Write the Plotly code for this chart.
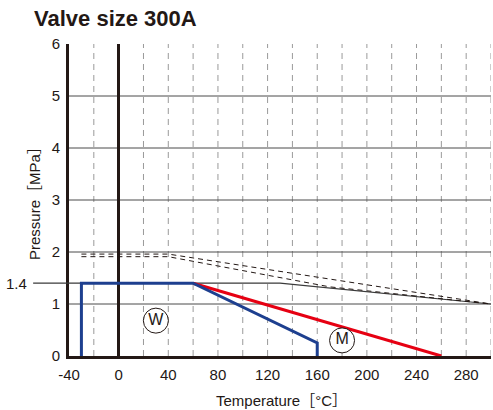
import plotly.graph_objects as go

# ---- data ----
temp_ticks = [-40, 0, 40, 80, 120, 160, 200, 240, 280]
press_ticks = [0, 1, 2, 3, 4, 5, 6]
hgrid = [1, 2, 3, 4, 5]
vgrid = [-20, 20, 40, 60, 80, 100, 120, 140, 160, 180, 200, 220, 240, 260, 280, 300]

w_x = [-30, -30, 60, 160, 160]
w_y = [0, 1.4, 1.4, 0.25, 0]
m_x = [60, 260]
m_y = [1.4, 0]
thin_x = [-40, 130, 300]
thin_y = [1.4, 1.4, 1.0]
dash1_x = [-30, 40, 300]
dash1_y = [1.96, 1.96, 1.0]
dash2_x = [-30, 40, 170, 300]
dash2_y = [1.91, 1.91, 1.33, 1.0]
labels = ["W", "M"]
label_x = [30, 180]
label_y = [0.68, 0.3]
ref_level = 1.4

INK = "#231815"
FONT = "Liberation Sans, Arial, Noto Sans CJK JP, sans-serif"

fig = go.Figure()

fig.add_trace(go.Scatter(x=thin_x, y=thin_y, mode="lines",
                         line=dict(color="#3a3a3a", width=1.2), hoverinfo="skip"))
fig.add_trace(go.Scatter(x=dash1_x, y=dash1_y, mode="lines",
                         line=dict(color=INK, width=1, dash="5px,4px"), hoverinfo="skip"))
fig.add_trace(go.Scatter(x=dash2_x, y=dash2_y, mode="lines",
                         line=dict(color=INK, width=1, dash="5px,4px"), hoverinfo="skip"))
fig.add_trace(go.Scatter(x=m_x, y=m_y, mode="lines",
                         line=dict(color="#e60012", width=3), hoverinfo="skip"))
fig.add_trace(go.Scatter(x=w_x, y=w_y, mode="lines",
                         line=dict(color="#1d3f8f", width=3), hoverinfo="skip"))
fig.add_trace(go.Scatter(x=label_x, y=label_y, mode="markers+text", text=labels,
                         textposition="middle center",
                         textfont=dict(family=FONT, size=16, color=INK),
                         marker=dict(symbol="circle", size=25, color="white",
                                     line=dict(color=INK, width=1)),
                         hoverinfo="skip"))

shapes = []
for v in vgrid:
    shapes.append(dict(type="line", xref="x", yref="y", x0=v, x1=v, y0=0, y1=6,
                       line=dict(color="#9a9a9a", width=1, dash="6px,5px"), layer="below"))
for h in hgrid:
    shapes.append(dict(type="line", xref="x", yref="y", x0=-40, x1=300, y0=h, y1=h,
                       line=dict(color="#4a4a4a", width=1), layer="below"))
# 1.4 reference tick line extending into the left margin
shapes.append(dict(type="line", xref="paper", yref="y", x0=-0.085, x1=0, y0=ref_level, y1=ref_level,
                   line=dict(color="#3a3a3a", width=1.2), layer="above"))

PW, PH = 422, 312  # plot area size in px
annotations = [
    dict(text=str(ref_level), xref="paper", yref="y", x=-0.095, y=ref_level,
         xanchor="right", yanchor="middle", showarrow=False,
         font=dict(family=FONT, size=15, color=INK)),
    dict(text="<b>Valve size 300A</b>", xref="paper", yref="paper",
         x=(32 - 69) / PW, y=1 + (44 - 18) / PH, xanchor="left", yanchor="middle",
         showarrow=False, font=dict(family=FONT, size=22, color=INK)),
    dict(text="Temperature［°C］", xref="paper", yref="paper",
         x=(281 - 69) / PW, y=-(400 - 356) / PH, xanchor="center", yanchor="middle",
         showarrow=False, font=dict(family=FONT, size=15, color=INK)),
    dict(text="Pressure［MPa］", xref="paper", yref="paper", textangle=-90,
         x=(34 - 69) / PW, y=0.5, xanchor="center", yanchor="middle",
         showarrow=False, font=dict(family=FONT, size=15, color=INK)),
]

fig.update_layout(
    width=493, height=410,
    margin=dict(l=69, r=2, t=44, b=54),
    paper_bgcolor="white", plot_bgcolor="white",
    showlegend=False,
    font=dict(family=FONT, color=INK, size=15),
    shapes=shapes,
    annotations=annotations,
)

fig.update_xaxes(range=[-40, 300], tickvals=temp_ticks, ticktext=[str(t) for t in temp_ticks],
                 showgrid=False, zeroline=True, zerolinecolor=INK, zerolinewidth=3,
                 showline=True, linecolor=INK, linewidth=3,
                 ticks="outside", ticklen=3, tickcolor="rgba(0,0,0,0)",
                 tickfont=dict(size=15, color=INK))
fig.update_yaxes(range=[0, 6], tickvals=press_ticks, showgrid=False, zeroline=False,
                 showline=True, linecolor=INK, linewidth=3,
                 ticks="outside", ticklen=3, tickcolor="rgba(0,0,0,0)",
                 tickfont=dict(size=15, color=INK))

fig.write_html("out.html", config={"displayModeBar": False},
               post_script="document.body.style.margin='0';document.body.style.overflow='hidden';")
